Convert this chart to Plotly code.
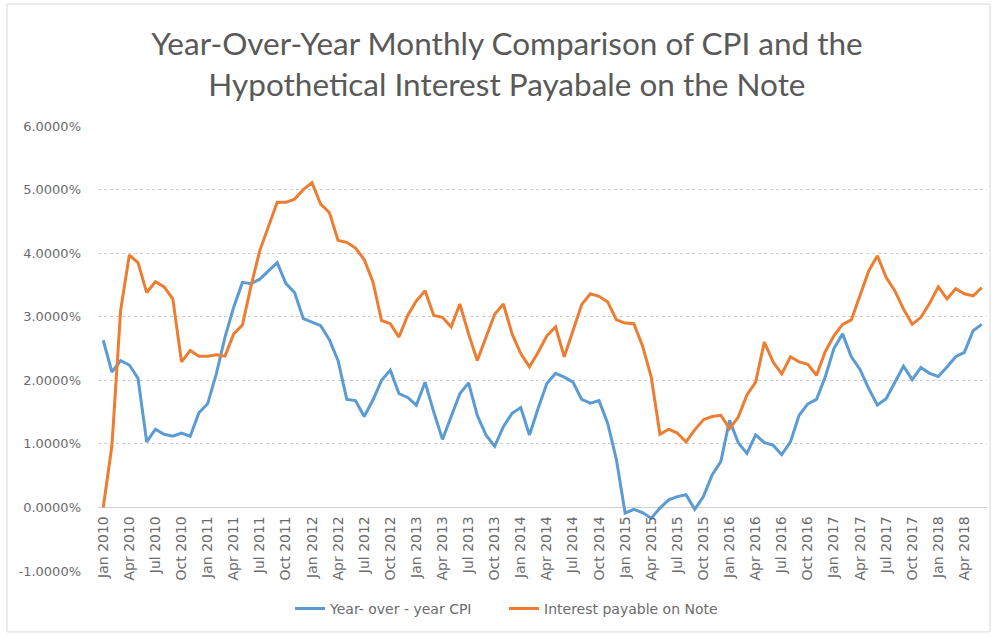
import plotly.graph_objects as go

months = [f"{m} {y}" for y in range(2010, 2019)
          for m in ["Jan", "Feb", "Mar", "Apr", "May", "Jun", "Jul", "Aug", "Sep", "Oct", "Nov", "Dec"]][:102]

cpi_yoy = [2.63, 2.13, 2.31, 2.24, 2.03, 1.03, 1.23, 1.15, 1.12, 1.17, 1.12, 1.49,
           1.63, 2.10, 2.68, 3.15, 3.54, 3.52, 3.59, 3.72, 3.85, 3.52, 3.38, 2.97,
           2.91, 2.86, 2.64, 2.31, 1.70, 1.68, 1.43, 1.69, 2.00, 2.16, 1.79, 1.73,
           1.61, 1.97, 1.50, 1.07, 1.43, 1.79, 1.96, 1.45, 1.14, 0.96, 1.27, 1.48,
           1.57, 1.14, 1.56, 1.95, 2.11, 2.05, 1.97, 1.70, 1.64, 1.68, 1.32, 0.75,
           -0.09, -0.03, -0.08, -0.17, -0.01, 0.12, 0.17, 0.20, -0.03, 0.17, 0.51, 0.72,
           1.37, 1.02, 0.85, 1.14, 1.02, 0.98, 0.83, 1.03, 1.45, 1.63, 1.70, 2.05,
           2.50, 2.73, 2.37, 2.17, 1.87, 1.61, 1.71, 1.96, 2.22, 2.01, 2.20, 2.11,
           2.06, 2.21, 2.37, 2.44, 2.78, 2.88]

note_interest = [0.00, 0.97, 3.10, 3.97, 3.85, 3.38, 3.55, 3.47, 3.28, 2.29, 2.47, 2.38,
                 2.38, 2.40, 2.38, 2.73, 2.87, 3.49, 4.04, 4.43, 4.80, 4.80, 4.85, 5.00,
                 5.11, 4.77, 4.64, 4.20, 4.17, 4.08, 3.90, 3.55, 2.94, 2.89, 2.68, 3.02,
                 3.25, 3.41, 3.02, 2.99, 2.84, 3.20, 2.73, 2.31, 2.68, 3.04, 3.20, 2.73,
                 2.42, 2.21, 2.44, 2.70, 2.84, 2.37, 2.78, 3.19, 3.36, 3.32, 3.23, 2.95,
                 2.90, 2.89, 2.54, 2.05, 1.15, 1.23, 1.17, 1.03, 1.22, 1.38, 1.43, 1.45,
                 1.24, 1.42, 1.77, 1.97, 2.60, 2.29, 2.10, 2.37, 2.29, 2.25, 2.08, 2.45,
                 2.70, 2.88, 2.95, 3.33, 3.72, 3.96, 3.62, 3.41, 3.12, 2.88, 2.99, 3.21,
                 3.47, 3.28, 3.44, 3.36, 3.33, 3.46]

tick_labels = months[::3]
y_ticks = [-1, 0, 1, 2, 3, 4, 5, 6]
y_tick_text = [f"{v:.4f}%" for v in y_ticks]

fig = go.Figure()
fig.add_trace(go.Scatter(x=months, y=cpi_yoy, mode="lines", name="Year- over - year CPI",
                         line=dict(color="#5B9BD5", width=3)))
fig.add_trace(go.Scatter(x=months, y=note_interest, mode="lines", name="Interest payable on Note",
                         line=dict(color="#ED7D31", width=3)))

grey = "#6b6b6b"
fig.update_layout(
    width=994, height=637,
    margin=dict(l=98, r=7, t=126, b=66, autoexpand=False),
    paper_bgcolor="white", plot_bgcolor="white",
    title=dict(text="Year-Over-Year Monthly Comparison of CPI and the<br>Hypothetical Interest Payabale on the Note",
               x=0.51, xanchor="center", y=0.913, yanchor="top",
               font=dict(family="Lato", size=31.5, color="#595959")),
    showlegend=True,
    legend=dict(orientation="h", x=0.216, xanchor="left", y=-0.085, yanchor="middle",
                font=dict(family="DejaVu Sans", size=14, color=grey),
                entrywidth=169, entrywidthmode="pixels", tracegroupgap=0),
    xaxis=dict(type="category", range=[-0.6, 101.6], tickmode="array",
               tickvals=tick_labels, ticktext=tick_labels, tickangle=-90,
               anchor="free", position=1/7, showgrid=False, showline=False,
               ticks="", ticklabelstandoff=5, automargin=False,
               tickfont=dict(family="DejaVu Sans", size=14, color=grey)),
    yaxis=dict(range=[-1, 6], tickmode="array", tickvals=y_ticks, ticktext=y_tick_text,
               showgrid=True, gridcolor="#cfcfcf", griddash="dot", gridwidth=1,
               zeroline=True, zerolinecolor="#d0d0d0", zerolinewidth=1,
               ticks="", ticklabelstandoff=16, automargin=False,
               tickfont=dict(family="DejaVu Sans", size=13, color=grey)),
    shapes=[dict(type="rect", xref="paper", yref="paper",
                 x0=-0.1024, x1=1.0034, y0=-0.137, y1=1.274,
                 line=dict(color="#d9d9d9", width=1), fillcolor="rgba(0,0,0,0)", layer="below")],
)

fig.write_html("out.html", config={"displayModeBar": False},
               post_script="document.body.style.margin='0';")
